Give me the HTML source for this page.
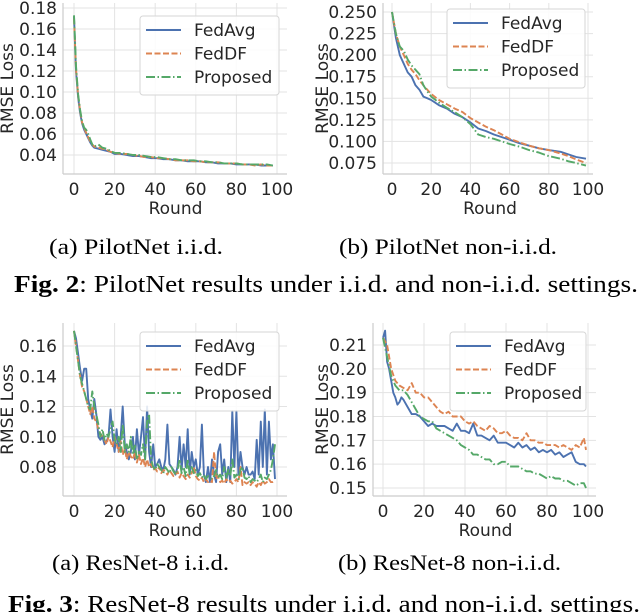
<!DOCTYPE html>
<html><head><meta charset="utf-8">
<style>
html,body{margin:0;padding:0;background:#fff;}
svg{display:block;}
.tk{font-family:"DejaVu Sans","Liberation Sans",sans-serif;font-size:17px;fill:#262626;}
.cap{font-family:"Liberation Serif",serif;font-size:22px;fill:#000;}
</style></head>
<body>
<svg id="fig" width="640" height="612" viewBox="0 0 640 612" xmlns="http://www.w3.org/2000/svg">
<g id="plots"></g>
<text class="cap" x="49" y="254" textLength="174" lengthAdjust="spacingAndGlyphs">(a) PilotNet i.i.d.</text>
<text class="cap" x="339" y="254" textLength="218" lengthAdjust="spacingAndGlyphs">(b) PilotNet non-i.i.d.</text>
<text class="cap" x="14" y="292" style="font-size:24px" textLength="624" lengthAdjust="spacingAndGlyphs"><tspan font-weight="bold">Fig. 2</tspan>: PilotNet results under i.i.d. and non-i.i.d. settings.</text>
<text class="cap" x="52" y="570" textLength="177" lengthAdjust="spacingAndGlyphs">(a) ResNet-8 i.i.d.</text>
<text class="cap" x="338" y="570" textLength="223" lengthAdjust="spacingAndGlyphs">(b) ResNet-8 non-i.i.d.</text>
<text class="cap" x="8" y="612" style="font-size:24px" textLength="632" lengthAdjust="spacingAndGlyphs"><tspan font-weight="bold">Fig. 3</tspan>: ResNet-8 results under i.i.d. and non-i.i.d. settings.</text>
</svg>
<script>
// ---- Panel 1: PilotNet iid ----
const p1Rounds = [0,1,2,3,4,5,6,7,8,9,10,12,14,16,18,20,23,26,29,32,35,38,41,44,47,50,53,56,59,62,65,68,71,74,77,80,83,86,89,92,95,98];
const p1FedAvg = [0.172,0.12,0.095,0.08,0.07,0.064,0.06,0.056,0.052,0.049,0.047,0.046,0.045,0.044,0.043,0.041,0.041,0.040,0.039,0.039,0.038,0.037,0.037,0.036,0.036,0.035,0.035,0.034,0.034,0.034,0.033,0.033,0.032,0.032,0.032,0.031,0.031,0.031,0.031,0.030,0.030,0.030];
const p1FedDF = [0.17,0.122,0.097,0.082,0.071,0.066,0.061,0.057,0.053,0.05,0.048,0.047,0.046,0.045,0.043,0.042,0.041,0.041,0.040,0.039,0.038,0.038,0.037,0.037,0.036,0.035,0.035,0.035,0.034,0.034,0.033,0.033,0.033,0.032,0.032,0.032,0.031,0.031,0.030,0.031,0.030,0.030];
const p1Proposed = [0.173,0.125,0.098,0.083,0.072,0.066,0.064,0.06,0.055,0.05,0.048,0.05,0.047,0.046,0.044,0.042,0.042,0.041,0.040,0.040,0.039,0.038,0.038,0.037,0.036,0.036,0.035,0.035,0.035,0.034,0.034,0.033,0.033,0.032,0.032,0.032,0.031,0.031,0.031,0.031,0.031,0.030];
const p1YTicks = [0.04,0.06,0.08,0.10,0.12,0.14,0.16,0.18];
const p1YLabels = ["0.04","0.06","0.08","0.10","0.12","0.14","0.16","0.18"];

// ---- Panel 2: PilotNet non-iid ----
const p2Rounds = [0,2,4,6,8,10,12,14,16,18,20,24,28,32,36,40,44,48,52,56,60,65,70,75,80,86,90,94,99];
const p2FedAvg = [0.25,0.22,0.2,0.19,0.18,0.175,0.165,0.16,0.152,0.15,0.148,0.142,0.138,0.132,0.128,0.122,0.115,0.112,0.108,0.105,0.102,0.098,0.095,0.092,0.09,0.088,0.085,0.082,0.08];
const p2FedDF = [0.25,0.225,0.21,0.2,0.19,0.183,0.178,0.171,0.165,0.16,0.155,0.148,0.143,0.138,0.134,0.127,0.122,0.117,0.113,0.108,0.103,0.099,0.095,0.092,0.09,0.086,0.083,0.079,0.075];
const p2Proposed = [0.25,0.225,0.21,0.205,0.195,0.188,0.183,0.178,0.165,0.158,0.152,0.145,0.139,0.134,0.128,0.12,0.108,0.105,0.103,0.1,0.097,0.094,0.09,0.087,0.083,0.08,0.077,0.075,0.072];
const p2YTicks = [0.075,0.1,0.125,0.15,0.175,0.2,0.225,0.25];
const p2YLabels = ["0.075","0.100","0.125","0.150","0.175","0.200","0.225","0.250"];

// ---- Panel 3: ResNet-8 iid (every round) ----
const p3FedAvg = [0.17,0.165,0.155,0.145,0.137,0.145,0.145,0.125,0.118,0.112,
0.125,0.115,0.1,0.098,0.1,0.095,0.097,0.1,0.118,0.1,
0.09,0.105,0.09,0.1,0.12,0.095,0.09,0.085,0.09,0.1,
0.085,0.105,0.088,0.1,0.113,0.085,0.12,0.09,0.08,0.095,
0.08,0.082,0.085,0.08,0.078,0.085,0.108,0.082,0.08,0.078,
0.075,0.08,0.1,0.078,0.095,0.08,0.105,0.075,0.09,0.08,
0.085,0.075,0.08,0.108,0.075,0.07,0.08,0.07,0.085,0.075,
0.07,0.09,0.095,0.075,0.085,0.07,0.08,0.07,0.117,0.08,
0.117,0.075,0.09,0.08,0.075,0.08,0.075,0.075,0.077,0.072,
0.098,0.075,0.11,0.08,0.118,0.075,0.11,0.085,0.095,0.072];
const p3FedDF = [0.17,0.16,0.15,0.14,0.133,0.13,0.125,0.12,0.115,0.12,
0.112,0.11,0.105,0.102,0.1,0.098,0.095,0.1,0.097,0.093,
0.1,0.095,0.09,0.097,0.088,0.092,0.085,0.09,0.087,0.085,
0.09,0.083,0.088,0.082,0.086,0.08,0.085,0.08,0.082,0.078,
0.079,0.077,0.08,0.076,0.078,0.077,0.075,0.078,0.076,0.074,
0.075,0.077,0.073,0.076,0.074,0.072,0.075,0.073,0.076,0.08,
0.074,0.072,0.071,0.073,0.07,0.072,0.07,0.071,0.07,0.09,
0.072,0.074,0.07,0.071,0.069,0.072,0.07,0.071,0.069,0.07,
0.072,0.07,0.08,0.068,0.07,0.069,0.07,0.068,0.07,0.069,
0.067,0.07,0.068,0.071,0.069,0.07,0.072,0.07,0.07,0.071];
const p3Proposed = [0.17,0.16,0.15,0.14,0.135,0.13,0.125,0.12,0.118,0.13,
0.12,0.115,0.108,0.1,0.105,0.098,0.102,0.1,0.105,0.11,
0.098,0.095,0.1,0.09,0.108,0.09,0.095,0.09,0.1,0.088,
0.095,0.085,0.09,0.088,0.095,0.085,0.11,0.115,0.085,0.08,
0.078,0.082,0.08,0.078,0.076,0.08,0.078,0.076,0.08,0.077,
0.075,0.078,0.085,0.076,0.08,0.074,0.085,0.075,0.08,0.076,
0.078,0.074,0.076,0.073,0.075,0.072,0.074,0.073,0.072,0.074,
0.078,0.073,0.075,0.072,0.08,0.073,0.078,0.074,0.085,0.073,
0.075,0.072,0.078,0.08,0.073,0.072,0.074,0.07,0.072,0.071,
0.07,0.072,0.075,0.07,0.073,0.072,0.075,0.078,0.085,0.095];
const p3YTicks = [0.08,0.10,0.12,0.14,0.16];
const p3YLabels = ["0.08","0.10","0.12","0.14","0.16"];

// ---- Panel 4: ResNet-8 non-iid ----
const p4RoundsA = [0,1,2,3,4,5,6,7,8,9,10,12,14,16,18,20,22,24,26,28,30,32,34,36,38,40,42,44,46,48,50,52,54,56,58,60,62,64,66,68,70,72,74,76,78,80,82,84,86,88,90,92,94,96,98,99];
const p4FedAvg = [0.213,0.216,0.203,0.2,0.195,0.19,0.188,0.185,0.186,0.188,0.187,0.184,0.181,0.181,0.18,0.178,0.176,0.177,0.176,0.176,0.176,0.175,0.174,0.177,0.174,0.174,0.173,0.177,0.172,0.172,0.171,0.17,0.172,0.169,0.169,0.169,0.168,0.167,0.169,0.167,0.168,0.166,0.167,0.165,0.166,0.165,0.166,0.164,0.165,0.163,0.164,0.165,0.161,0.16,0.16,0.159];
const p4RoundsB = [0,2,4,6,8,10,12,14,16,18,20,22,24,26,28,30,32,34,36,38,40,42,44,46,48,50,52,54,56,58,60,62,64,66,68,70,72,74,76,78,80,82,84,86,88,90,92,94,96,98,99];
const p4FedDF = [0.213,0.21,0.2,0.195,0.193,0.192,0.191,0.194,0.19,0.19,0.188,0.188,0.186,0.184,0.182,0.181,0.182,0.18,0.18,0.18,0.178,0.177,0.178,0.176,0.175,0.174,0.176,0.175,0.173,0.173,0.174,0.172,0.171,0.171,0.17,0.173,0.17,0.17,0.169,0.169,0.168,0.168,0.168,0.167,0.168,0.167,0.166,0.168,0.167,0.171,0.166];
const p4Proposed = [0.213,0.205,0.197,0.193,0.191,0.191,0.189,0.186,0.183,0.18,0.179,0.178,0.178,0.175,0.174,0.173,0.172,0.171,0.17,0.168,0.167,0.166,0.164,0.164,0.163,0.162,0.162,0.16,0.16,0.161,0.161,0.159,0.159,0.159,0.158,0.157,0.157,0.156,0.156,0.155,0.154,0.155,0.154,0.154,0.153,0.153,0.152,0.151,0.152,0.152,0.15];
const p4YTicks = [0.15,0.16,0.17,0.18,0.19,0.20,0.21];
const p4YLabels = ["0.15","0.16","0.17","0.18","0.19","0.20","0.21"];

const xTicks = [0,20,40,60,80,100];
const seriesNames = ["FedAvg","FedDF","Proposed"];
const colors = ["#4c72b0","#dd8452","#55a868"];
const dashes = ["none","6,2.5","9,2.5,1.5,2.5"];

const NS = "http://www.w3.org/2000/svg";
const root = document.getElementById("plots");
function mk(tag, attrs, parent){ const e=document.createElementNS(NS,tag); for(const k in attrs) e.setAttribute(k,attrs[k]); parent.appendChild(e); return e; }

function drawPanel(id, cfg){
  const g = mk("g",{},root);
  
  
  const sx = r => cfg.x0 + r*(cfg.x100-cfg.x0)/100;
  const sy = v => cfg.ya + (v-cfg.va)*(cfg.yb-cfg.ya)/(cfg.vb-cfg.va);
  const yt = mk("text",{x:0,y:0,class:"tk","text-anchor":"middle",transform:`translate(${cfg.ylx},${(cfg.top+cfg.bottom)/2}) rotate(-90)`},g);
  yt.textContent = "RMSE Loss";
  
  
  xTicks.forEach(t=>{
    const l = mk("line",{x1:sx(t),x2:sx(t),y1:cfg.top,y2:cfg.bottom,stroke:"#e3e3e3","stroke-width":1},g);
    
    
    const tx = mk("text",{x:sx(t),y:cfg.bottom+21,class:"tk","text-anchor":"middle"},g);
    tx.textContent = t;
    
    
  });
  cfg.yt.forEach((t,i)=>{
    const l = mk("line",{x1:cfg.left,x2:cfg.right,y1:sy(t),y2:sy(t),stroke:"#e3e3e3","stroke-width":1},g);
    
    
  });
  const sp1 = mk("line",{x1:cfg.left,x2:cfg.left,y1:cfg.top,y2:cfg.bottom,stroke:"#cccccc","stroke-width":1.2},g);
  
  
  const sp2 = mk("line",{x1:cfg.left,x2:cfg.right,y1:cfg.bottom,y2:cfg.bottom,stroke:"#cccccc","stroke-width":1.2},g);
  
  
  cfg.yt.forEach((t,i)=>{
    const tx = mk("text",{x:cfg.left-6,y:sy(t)+6,class:"tk","text-anchor":"end"},g);
    tx.textContent = cfg.yl[i];
    
    
  });
  const xt = mk("text",{x:(sx(0)+sx(100))/2,y:cfg.bottom+40,class:"tk","text-anchor":"middle"},g);
  xt.textContent = "Round";
  
  
  cfg.series.forEach((s,k)=>{
    const d = s.vals.map((v,i)=>(i?"L":"M")+sx(s.rounds?s.rounds[i]:i).toFixed(1)+","+sy(v).toFixed(1)).join("");
    const p = mk("path",{d:d,fill:"none",stroke:colors[k],"stroke-width":1.9,"stroke-dasharray":dashes[k],"stroke-linejoin":"round"},g);
    
    
  });
  const lg = mk("g",{},g);
  
  
  const lb = mk("rect",{x:cfg.lx,y:cfg.ly,width:cfg.lw,height:79,rx:3,fill:"#ffffff","fill-opacity":0.85,stroke:"#d6d6d6","stroke-width":1},lg);
  
  
  seriesNames.forEach((n,k)=>{
    const yy = cfg.ly+14+k*23.5;
    const ll = mk("line",{x1:cfg.lx+6,x2:cfg.lx+41,y1:yy,y2:yy,stroke:colors[k],"stroke-width":1.9,"stroke-dasharray":dashes[k]},lg);
    
    
    const lt = mk("text",{x:cfg.lx+54,y:yy+6,class:"tk"},lg);
    lt.textContent = n;
    
    
  });
}

drawPanel("pilotnet-iid-chart",{x0:74,x100:277,ya:155,va:0.04,yb:8,vb:0.18,left:63,right:287,top:3,bottom:174,ylx:13,yt:p1YTicks,yl:p1YLabels,lx:140,ly:16,lw:139,
  series:[{rounds:p1Rounds,vals:p1FedAvg},{rounds:p1Rounds,vals:p1FedDF},{rounds:p1Rounds,vals:p1Proposed}]});
drawPanel("pilotnet-noniid-chart",{x0:392,x100:588,ya:163,va:0.075,yb:12,vb:0.25,left:383,right:593,top:3,bottom:174,ylx:328,yt:p2YTicks,yl:p2YLabels,lx:447,ly:9,lw:138,
  series:[{rounds:p2Rounds,vals:p2FedAvg},{rounds:p2Rounds,vals:p2FedDF},{rounds:p2Rounds,vals:p2Proposed}]});
drawPanel("resnet-iid-chart",{x0:74,x100:277,ya:467,va:0.08,yb:346,vb:0.16,left:63,right:287,top:323,bottom:496,ylx:13,yt:p3YTicks,yl:p3YLabels,lx:140,ly:332,lw:139,
  series:[{vals:p3FedAvg},{vals:p3FedDF},{vals:p3Proposed}]});
drawPanel("resnet-noniid-chart",{x0:383,x100:588,ya:488,va:0.15,yb:345,vb:0.21,left:373,right:596,top:323,bottom:496,ylx:328,yt:p4YTicks,yl:p4YLabels,lx:450,ly:332,lw:136,
  series:[{rounds:p4RoundsA,vals:p4FedAvg},{rounds:p4RoundsB,vals:p4FedDF},{rounds:p4RoundsB,vals:p4Proposed}]});
</script>
</body></html>
